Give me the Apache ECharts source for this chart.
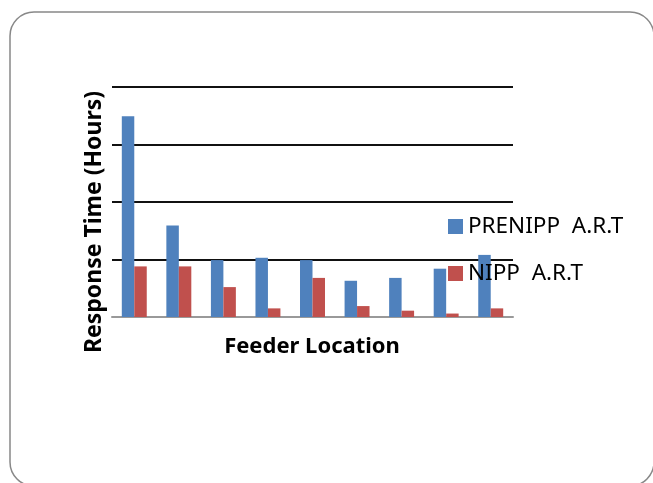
<!DOCTYPE html>
<html>
<head>
<meta charset="utf-8">
<script src="https://cdn.jsdelivr.net/npm/echarts@6/dist/echarts.min.js"></script>
<style>
html,body{margin:0;padding:0;background:#fff;}
#chart{width:653px;height:483px;}
</style>
</head>
<body>
<div id="chart"></div>
<script>
const categories = ['1','2','3','4','5','6','7','8','9'];
const seriesNames = ['PRENIPP  A.R.T', 'NIPP  A.R.T'];
const prenippValues = [34.9, 15.9, 9.9, 10.3, 9.9, 6.3, 6.8, 8.4, 10.8];
const nippValues = [8.8, 8.8, 5.2, 1.5, 6.8, 1.9, 1.1, 0.6, 1.5];
const yTitle = 'Response Time (Hours)';
const xTitle = 'Feeder Location';

const chart = echarts.init(document.getElementById('chart'), null, {renderer:'canvas'});
const font = '"Noto Sans", "Open Sans", sans-serif';
chart.setOption({
  animation: false,
  backgroundColor: '#ffffff',
  grid: {left: 112, right: 140, top: 87, bottom: 166, containLabel: false},
  legend: {
    orient: 'vertical', left: 443, top: 208, itemWidth: 15, itemHeight: 15, itemGap: 20,
    icon: 'rect',
    textStyle: {fontFamily: font, fontSize: 22.5, color: '#000', lineHeight: 27},
    data: seriesNames
  },
  xAxis: {
    type: 'category', data: categories,
    axisLine: {lineStyle: {color: '#999', width: 2}},
    axisTick: {show: false}, axisLabel: {show: false}
  },
  yAxis: {
    type: 'value', min: 0, max: 40, interval: 10,
    axisLine: {show: false}, axisTick: {show: false}, axisLabel: {show: false},
    splitLine: {lineStyle: {color: '#111', width: 2}}
  },
  series: [
    {name: seriesNames[0], type: 'bar', data: prenippValues, barWidth: '28%', barGap: '0%', itemStyle: {color: '#4F81BD'}},
    {name: seriesNames[1], type: 'bar', data: nippValues, barWidth: '28%', barGap: '0%', itemStyle: {color: '#C0504D'}}
  ],
  graphic: [
    {type: 'rect', shape: {x: 10, y: 12, width: 644, height: 474, r: 24}, style: {fill: 'none', stroke: '#888', lineWidth: 1.5}, z: -1},
    {type: 'text', x: 94, y: 222, rotation: Math.PI/2, style: {text: yTitle, font: 'bold 23px ' + font, fill: '#000', align: 'center', verticalAlign: 'middle'}},
    {type: 'text', x: 312, y: 347, style: {text: xTitle, font: 'bold 22px ' + font, fill: '#000', align: 'center', verticalAlign: 'middle'}}
  ]
});
</script>
</body>
</html>
